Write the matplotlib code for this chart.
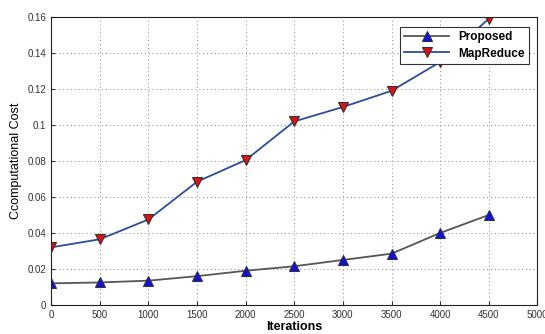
import numpy as np
import matplotlib.pyplot as plt

plt.rcParams['font.family'] = ['Liberation Sans', 'DejaVu Sans']

# data
iterations = [0, 500, 1000, 1500, 2000, 2500, 3000, 3500, 4000, 4500]
proposed = [0.012, 0.0125, 0.0135, 0.016, 0.019, 0.0215, 0.025, 0.0285, 0.040, 0.050]
mapreduce = [0.032, 0.0365, 0.0475, 0.0685, 0.0805, 0.102, 0.110, 0.119, 0.135, 0.159]
x_ticks = np.arange(0, 5001, 500)
y_ticks = np.arange(0, 0.161, 0.02)
y_labels = ["0", "0.02", "0.04", "0.06", "0.08", "0.1", "0.12", "0.14", "0.16"]

fig = plt.figure(figsize=(5.45, 3.34), dpi=100)
ax = fig.add_axes([0.094, 0.087, 0.892, 0.862])

ax.plot(iterations, proposed, color="#555555", lw=1.3, marker="^", ms=6.5,
        mfc="#1010e0", mec="#333333", mew=0.8, label="Proposed")
ax.plot(iterations, mapreduce, color="#2a4d9c", lw=1.3, marker="v", ms=6.5,
        mfc="#e01010", mec="#333333", mew=0.8, label="MapReduce")

ax.set_xlim(0, 5000)
ax.set_ylim(0, 0.16)
ax.set_xticks(x_ticks)
ax.set_yticks(y_ticks)
ax.set_yticklabels(y_labels)
ax.tick_params(direction="in", labelsize=7, colors="#333333", length=3)
ax.grid(True, linestyle=(0, (1, 3)), color="#888888", lw=0.7)
for s in ax.spines.values():
    s.set_color("#222222")
    s.set_linewidth(0.8)

ax.set_xlabel("Iterations", fontsize=9, fontweight="bold", labelpad=1)
ax.set_ylabel("Ccomputational Cost", fontsize=9, labelpad=4)

leg = ax.legend(loc="upper right", bbox_to_anchor=(0.995, 0.985),
                prop={"weight": "bold", "size": 8.5}, fancybox=False,
                framealpha=1, edgecolor="#333333", borderpad=0.35,
                handlelength=3.8, labelspacing=0.35)
leg.get_frame().set_linewidth(0.8)

fig.savefig("out.png", dpi=100)
